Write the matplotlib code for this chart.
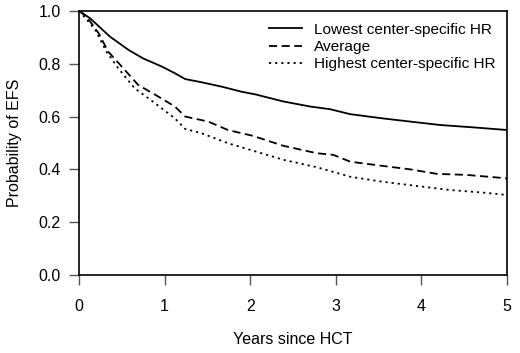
import matplotlib
matplotlib.use('Agg')
import matplotlib.pyplot as plt

plt.rcParams['font.family'] = ['Liberation Sans', 'DejaVu Sans']

# Kaplan-Meier style curves
t_low = [0, 0.13, 0.36, 0.58, 0.75, 0.97, 1.12, 1.24, 1.43, 1.67, 1.90, 2.06, 2.39,
         2.70, 2.93, 3.17, 3.55, 3.95, 4.22, 4.65, 5.0]
s_low = [1.0, 0.972, 0.903, 0.852, 0.820, 0.789, 0.764, 0.742, 0.730, 0.713, 0.694,
         0.684, 0.657, 0.638, 0.628, 0.609, 0.593, 0.578, 0.568, 0.558, 0.549]

t_avg = [0, 0.09, 0.23, 0.34, 0.50, 0.69, 0.93, 1.12, 1.24, 1.51, 1.74, 2.03, 2.39,
         2.78, 2.97, 3.17, 3.55, 3.87, 4.18, 4.53, 5.0]
s_avg = [1.0, 0.978, 0.915, 0.846, 0.789, 0.720, 0.675, 0.638, 0.600, 0.581, 0.549,
         0.527, 0.489, 0.461, 0.455, 0.429, 0.413, 0.400, 0.383, 0.379, 0.366]

t_high = [0, 0.07, 0.19, 0.32, 0.46, 0.65, 0.89, 1.12, 1.24, 1.43, 1.74, 2.03, 2.39,
          2.78, 3.17, 3.55, 3.95, 4.33, 4.72, 5.0]
s_high = [1.0, 0.975, 0.928, 0.846, 0.782, 0.707, 0.650, 0.593, 0.553, 0.537, 0.499,
          0.471, 0.436, 0.408, 0.372, 0.353, 0.337, 0.322, 0.312, 0.303]

labels = ['Lowest center-specific HR', 'Average', 'Highest center-specific HR']

fs = 11.5
fig = plt.figure(figsize=(5.2, 3.53), dpi=100)
ax = fig.add_axes([0.152, 0.221, 0.823, 0.748])

ax.plot(t_low, s_low, color='black', lw=1.3, label=labels[0])
ax.plot(t_avg, s_avg, color='black', lw=1.3, dashes=(4.5, 2.5), label=labels[1])
ax.plot(t_high, s_high, color='black', lw=1.3, dashes=(1.2, 2.2), label=labels[2])

ax.set_xlim(0, 5)
ax.set_ylim(0, 1)
ax.set_xticks([0, 1, 2, 3, 4, 5])
ax.set_yticks([0, 0.2, 0.4, 0.6, 0.8, 1.0])
ax.set_yticklabels(['0.0', '0.2', '0.4', '0.6', '0.8', '1.0'])
ax.tick_params(direction='out', length=7, width=1, color='#555555',
               labelsize=fs, pad=6)
ax.tick_params(axis='x', pad=10)
for sp in ax.spines.values():
    sp.set_linewidth(1.2)

ax.set_xlabel('Years since HCT', fontsize=fs, labelpad=13)
ax.set_ylabel('Probability of EFS', fontsize=fs, labelpad=12)

ax.legend(loc='upper right', frameon=False, fontsize=11.1, handlelength=2.1,
          handletextpad=0.8, labelspacing=0.22, borderaxespad=0.35)

fig.savefig('out.png', dpi=100)
